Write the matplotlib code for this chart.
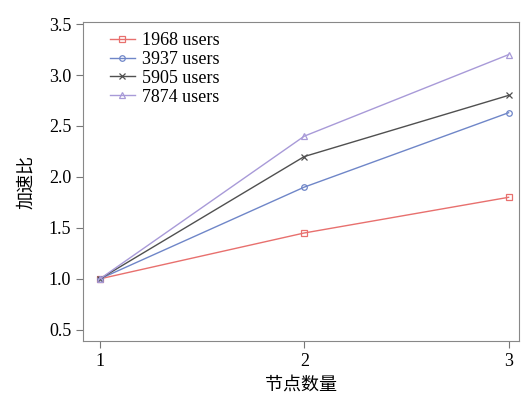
import matplotlib
matplotlib.use("Agg")
import matplotlib.pyplot as plt

plt.rcParams['font.family'] = ['Liberation Serif', 'Noto Sans CJK SC']

# données
noeuds = [1, 2, 3]
series = {
    "1968 users": [1.0, 1.45, 1.80],
    "3937 users": [1.0, 1.90, 2.63],
    "5905 users": [1.0, 2.20, 2.80],
    "7874 users": [1.0, 2.40, 3.20],
}
couleurs = ["#e8706e", "#6f86c8", "#505050", "#a89ad8"]
marqueurs = ["s", "o", "x", "^"]
yticks = [0.5, 1.0, 1.5, 2.0, 2.5, 3.0, 3.5]

fig = plt.figure(figsize=(5.23, 3.98), dpi=100)
ax = fig.add_axes([0.1587, 0.1432, 0.8333, 0.8015])

for (nom, vals), c, m in zip(series.items(), couleurs, marqueurs):
    ax.plot(noeuds, vals, color=c, marker=m, markersize=4, linewidth=1.0,
            markerfacecolor='none', markeredgewidth=0.9, label=nom)

ax.set_xlim(0.917, 3.05)
ax.set_ylim(0.39, 3.52)
ax.set_xticks(noeuds)
ax.set_yticks(yticks)
ax.set_yticklabels([f"{v:.1f}" for v in yticks])
ax.tick_params(labelsize=13, color='#777777', length=5)
for s in ax.spines.values():
    s.set_color('#888888')

ax.set_xlabel("节点数量", fontsize=13, family=['Noto Sans CJK SC'], labelpad=4)
ax.set_ylabel("加速比", fontsize=13, family=['Noto Sans CJK SC'], labelpad=10)

ax.legend(loc='upper left', frameon=False, fontsize=13, handlelength=1.4,
          labelspacing=0.1, borderaxespad=0.5, borderpad=0.5,
          handletextpad=0.4, bbox_to_anchor=(0.02, 1.025))

fig.savefig("out.png", dpi=100)
